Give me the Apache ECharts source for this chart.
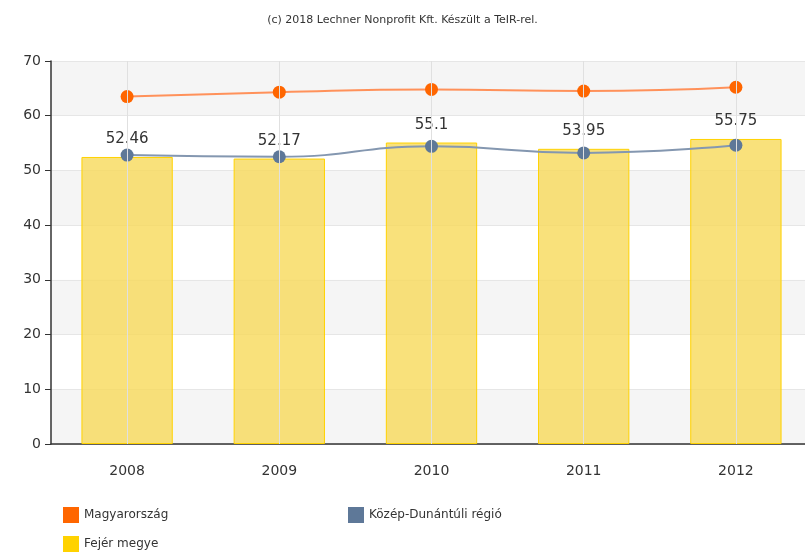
<!DOCTYPE html>
<html>
<head>
<meta charset="utf-8">
<script src="https://cdn.jsdelivr.net/npm/echarts@6/dist/echarts.min.js"></script>
<style>
  html, body { margin: 0; padding: 0; background: #fff; }
  #container { width: 805px; height: 554px; }
</style>
</head>
<body>
<div id="container"></div>
<script>
var dom = document.getElementById("container");
var myChart = echarts.init(dom);

// adatok
var years = ['2008', '2009', '2010', '2011', '2012'];
var fejer = [52.46, 52.17, 55.1, 53.95, 55.75];
var magyarorszag = [63.5, 64.3, 64.8, 64.5, 65.2];
var kozepDunantul = [52.8, 52.5, 54.4, 53.2, 54.6];

var seriesNames = ['Magyarország', 'Közép-Dunántúli régió', 'Fejér megye'];
var FONT = 'DejaVu Sans';

function legendBox(name, left, top, color) {
    return {
        data: [name], left: left, top: top, icon: 'rect',
        itemWidth: 16, itemHeight: 16, itemGap: 10,
        itemStyle: { color: color, borderWidth: 0 },
        textStyle: { fontSize: 12, color: '#333', fontFamily: FONT }
    };
}

var option = {
    animation: false,
    textStyle: { fontFamily: FONT },
    title: {
        text: '(c) 2018 Lechner Nonprofit Kft. Készült a TeIR-rel.',
        left: 'center',
        top: 10,
        textStyle: { fontSize: 11, fontWeight: 'normal', color: '#333', fontFamily: FONT }
    },
    legend: [
        legendBox(seriesNames[0], 58, 502, '#ff6600'),
        legendBox(seriesNames[1], 343, 502, '#5e7898'),
        legendBox(seriesNames[2], 58, 531, '#ffd200')
    ],
    grid: { left: 51, width: 761, top: 61, bottom: 110, outerBoundsMode: 'none', containLabel: false },
    xAxis: {
        type: 'category',
        data: years,
        axisLine: { lineStyle: { color: '#333', width: 1.5 } },
        axisTick: { alignWithLabel: true, length: 6, lineStyle: { color: '#333' } },
        axisLabel: { fontSize: 14, color: '#333', margin: 20, fontFamily: FONT },
        splitLine: { show: false }
    },
    yAxis: {
        type: 'value',
        min: 0, max: 70, interval: 10,
        axisLine: { show: true, lineStyle: { color: '#333', width: 1.5 } },
        axisTick: { show: true, length: 6, lineStyle: { color: '#333' } },
        axisLabel: { fontSize: 14, color: '#333', margin: 10, fontFamily: FONT },
        splitLine: { lineStyle: { color: '#e6e6e6' } },
        splitArea: { show: true, areaStyle: { color: ['#f5f5f5', '#ffffff'] } }
    },
    series: [
        {
            name: seriesNames[2],
            type: 'bar',
            data: fejer,
            barWidth: '60%',
            itemStyle: { color: 'rgba(247, 218, 90, 0.8)', borderColor: '#ffd200', borderWidth: 1 },
            label: { show: true, position: 'top', distance: 10, fontSize: 15, color: '#333', fontFamily: FONT },
            markLine: {
                silent: true,
                symbol: 'none',
                label: { show: false },
                lineStyle: { color: '#e0e0e0', type: 'solid', width: 1 },
                data: years.map(function (y) { return { xAxis: y }; })
            },
            z: 2
        },
        {
            name: seriesNames[0],
            type: 'line',
            data: magyarorszag,
            smooth: true,
            symbol: 'circle',
            symbolSize: 13,
            itemStyle: { color: '#ff6600' },
            lineStyle: { color: '#ff915a', width: 2 },
            z: 3
        },
        {
            name: seriesNames[1],
            type: 'line',
            data: kozepDunantul,
            smooth: true,
            symbol: 'circle',
            symbolSize: 13,
            itemStyle: { color: '#5e7898' },
            lineStyle: { color: '#8497b0', width: 2 },
            z: 3
        }
    ]
};

myChart.setOption(option);
</script>
</body>
</html>
